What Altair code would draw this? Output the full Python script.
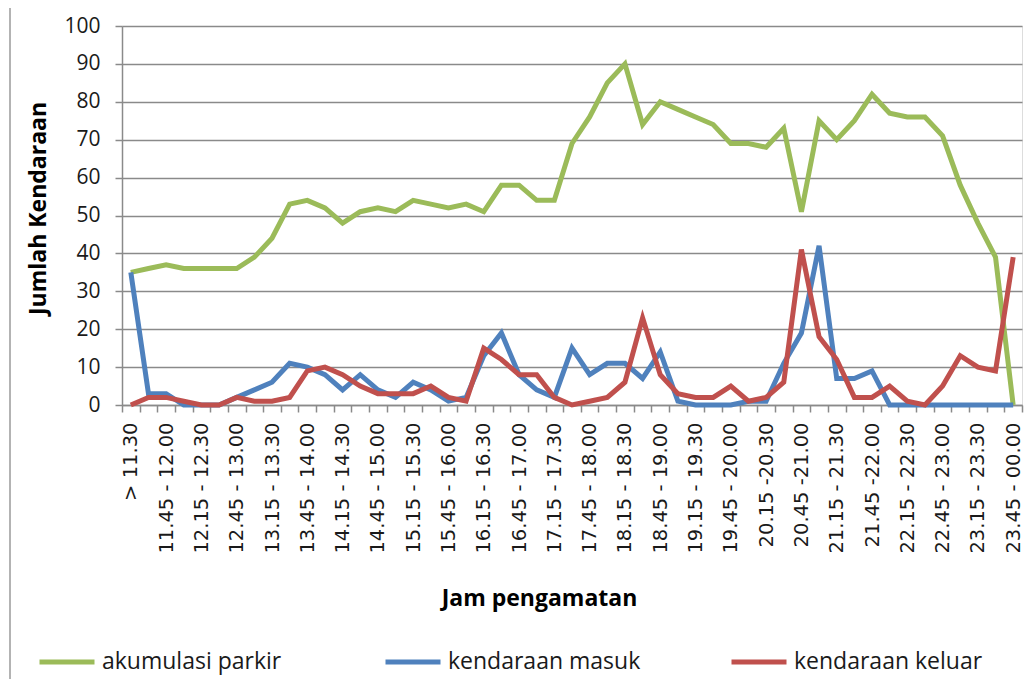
import json
import altair as alt
import pandas as pd

LABELS = ["> 11.30", "11.45 - 12.00", "12.15 - 12.30", "12.45 - 13.00", "13.15 - 13.30",
          "13.45 - 14.00", "14.15 - 14.30", "14.45 - 15.00", "15.15 - 15.30", "15.45 - 16.00",
          "16.15 - 16.30", "16.45 - 17.00", "17.15 - 17.30", "17.45 - 18.00", "18.15 - 18.30",
          "18.45 - 19.00", "19.15 - 19.30", "19.45 - 20.00", "20.15 -20.30", "20.45 -21.00",
          "21.15 - 21.30", "21.45 -22.00", "22.15 - 22.30", "22.45 - 23.00", "23.15 - 23.30",
          "23.45 - 00.00"]

AKUMULASI = [35, 36, 37, 36, 36, 36, 36, 39, 44, 53, 54,
             52, 48, 51, 52, 51, 54, 53, 52, 53, 51,
             58, 58, 54, 54, 69, 76, 85, 90, 74, 80,
             78, 76, 74, 69, 69, 68, 73, 51, 75, 70,
             75, 82, 77, 76, 76, 71, 58, 48, 39, 0]
MASUK = [35, 3, 3, 0, 0, 0, 2, 4, 6, 11, 10,
         8, 4, 8, 4, 2, 6, 4, 1, 2, 13,
         19, 8, 4, 2, 15, 8, 11, 11, 7, 14,
         1, 0, 0, 0, 1, 1, 11, 19, 42, 7,
         7, 9, 0, 0, 0, 0, 0, 0, 0, 0]
KELUAR = [0, 2, 2, 1, 0, 0, 2, 1, 1, 2, 9,
          10, 8, 5, 3, 3, 3, 5, 2, 1, 15,
          12, 8, 8, 2, 0, 1, 2, 6, 23, 8,
          3, 2, 2, 5, 1, 2, 6, 41, 18, 12,
          2, 2, 5, 1, 0, 5, 13, 10, 9, 39]

SERIES = ["akumulasi parkir", "kendaraan masuk", "kendaraan keluar"]
COLORS = ["#9BBB59", "#4F81BD", "#C0504D"]

n = len(AKUMULASI)
rows = []
for name, vals in zip(SERIES, [AKUMULASI, MASUK, KELUAR]):
    for i, v in enumerate(vals):
        rows.append({"idx": i, "value": v, "series": name})
df = pd.DataFrame(rows)
bounds = pd.DataFrame({"b": [i - 0.5 for i in range(n + 1)]})

GRID = "#8a8a8a"
x_scale = alt.Scale(domain=[-0.5, n - 0.5], nice=False, zero=False)
y_scale = alt.Scale(domain=[0, 100], nice=False)
color_scale = alt.Scale(domain=SERIES, range=COLORS)

label_expr = "[" + ",".join(json.dumps(s) for s in LABELS) + "][round(datum.value / 2)]"

x_label_axis = alt.Axis(
    values=list(range(0, n, 2)), labelExpr=label_expr, labelAngle=270,
    labelAlign="right", labelBaseline="middle", ticks=False, tickSize=0,
    labelPadding=17, labelFont="DejaVu Sans", labelFontSize=19.5, labelColor="#1a1a1a",
    labelOverlap=False, labelFlush=False, labelBound=False,
    domain=True, domainColor=GRID, domainWidth=1.5, grid=False,
    title="Jam pengamatan", titleFont="Open Sans", titleFontSize=23,
    titleFontWeight="bold", titleColor="#000", titleX=417, titleY=193,
    titleAlign="center", titleBaseline="middle", orient="bottom")

x_tick_axis = alt.Axis(
    values=bounds["b"].tolist(), labels=False, ticks=True, tickSize=7,
    tickColor=GRID, tickWidth=1.5, domain=False, grid=False, title=None,
    orient="bottom")

y_axis = alt.Axis(
    values=list(range(0, 101, 10)), grid=True, gridColor=GRID, gridWidth=1.5,
    tickColor=GRID, tickSize=7, tickWidth=1.5, domainColor=GRID, domainWidth=1.5,
    labelFont="Open Sans", labelFontSize=21, labelColor="#1a1a1a", labelPadding=15,
    title="Jumlah Kendaraan", titleFont="Open Sans", titleFontSize=23,
    titleFontWeight="bold", titleColor="#000", titleAngle=270, titleX=-84,
    titleY=182, titleAlign="center", titleBaseline="middle")

legend = alt.Legend(
    orient="none", legendX=-85, legendY=606, direction="horizontal", title=None,
    symbolType="stroke", symbolSize=3025, symbolStrokeWidth=5,
    labelFont="Open Sans", labelFontSize=23, labelColor="#1a1a1a", labelOffset=5,
    columnPadding=80, gridAlign="all", labelLimit=400)

line_layers = []
for name in SERIES:
    line_layers.append(
        alt.Chart(df).transform_filter(alt.datum.series == name)
        .mark_line(strokeWidth=5)
        .encode(
            x=alt.X("idx:Q", scale=x_scale, axis=x_label_axis),
            y=alt.Y("value:Q", scale=y_scale, axis=y_axis),
            color=alt.Color("series:N", scale=color_scale, legend=legend),
        )
    )
lines = alt.layer(*line_layers)

ticks = alt.Chart(bounds).mark_point(opacity=0).encode(
    x=alt.X("b:Q", scale=x_scale, axis=x_tick_axis)
)

one = pd.DataFrame({"a": [0]})
border_top = alt.Chart(one).mark_rule(color="#9a9a9a", strokeWidth=1.5).encode(
    x=alt.value(-112), x2=alt.value(902), y=alt.value(-19))
border_left = alt.Chart(one).mark_rule(color="#9a9a9a", strokeWidth=1.5).encode(
    x=alt.value(-112), y=alt.value(-19), y2=alt.value(660))

chart = alt.layer(lines, ticks, border_top, border_left).resolve_axis(
    x="independent"
).properties(
    width=900, height=379,
    autosize=alt.AutoSizeParams(type="none"),
    padding={"left": 114, "top": 18, "right": 2, "bottom": 274},
).configure_view(stroke=None).configure(background="white")

chart.save("out.html", embed_options={"renderer": "svg", "actions": False})
